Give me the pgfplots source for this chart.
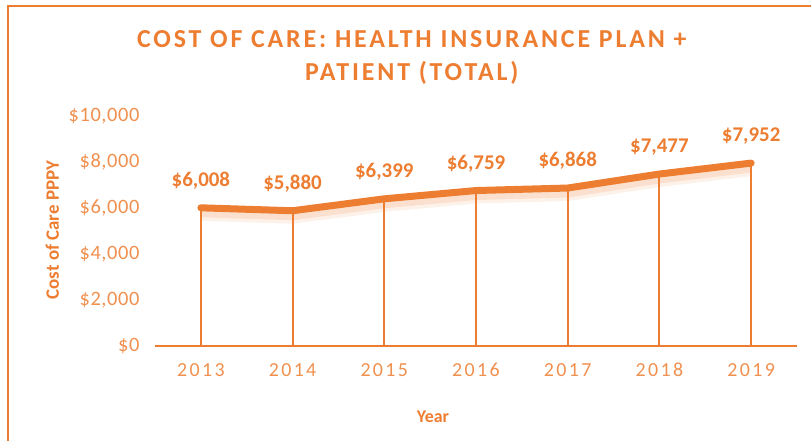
\documentclass[border=0pt]{standalone}
\usepackage{fontspec}
\setmainfont{Carlito}
\newfontfamily\titlefont[LetterSpace=11]{Carlito}
\newfontfamily\yearfont[LetterSpace=12]{Carlito}
\newfontfamily\tickfont[LetterSpace=3]{Carlito}
\usepackage{pgfplots}
\pgfplotsset{compat=1.18}
\definecolor{org}{HTML}{ED7D31}
\definecolor{orgl}{HTML}{F0904F}
\begin{document}
\begin{tikzpicture}
\useasboundingbox (0,0) rectangle (811bp,441bp);
\draw[org, line width=2.5bp] (8bp,0) -- (8bp,435bp) -- (811bp,435bp);
\begin{axis}[
  at={(155bp,95bp)}, anchor=south west,
  scale only axis, width=642bp, height=230bp,
  xmin=-0.5, xmax=6.5, ymin=0, ymax=10000,
  xtick={0,...,6},
  xticklabels={2013,2014,2015,2016,2017,2018,2019},
  ytick={0,2000,4000,6000,8000,10000},
  scaled y ticks=false,
  yticklabel={\$\pgfmathprintnumber{\tick}},
  /pgf/number format/.cd, 1000 sep={,}, fixed, precision=0, assume math mode=true,
  /pgfplots/.cd,
  axis line style={draw=none},
  major tick length=0pt,
  tick label style={color=orgl, font=\fontsize{20.5}{22}\selectfont\tickfont},
  yticklabel style={anchor=east, xshift=-12bp},
  xticklabel style={font=\fontsize{20}{22}\selectfont\yearfont, anchor=center,
    text height=1.4ex, text depth=0pt, yshift=-27bp},
  title={COST OF CARE: HEALTH INSURANCE PLAN +\\PATIENT (TOTAL)},
  title style={at={(axis description cs:0.40,1.228)}, anchor=center, align=center,
    color=org, font=\fontsize{26}{33}\selectfont\titlefont\bfseries},
  xlabel={Year},
  xlabel style={at={(axis description cs:0.433,-0.309)}, anchor=center,
    color=org, font=\fontsize{18}{20}\selectfont\bfseries},
  ylabel={Cost of Care PPPY},
  ylabel style={at={(axis description cs:-0.160,0.504)}, anchor=center, rotate=0,
    color=org, font=\fontsize{19}{20}\selectfont\bfseries},
  clip=false,
]
% baseline
\addplot[org, line width=2bp] coordinates {(-0.5,0) (6.5,0)};
% drop lines
\addplot[org, line width=2bp, ycomb, forget plot] coordinates {
 (0,6008) (1,5880) (2,6399) (3,6759) (4,6868) (5,7477) (6,7952)};
% shadow
\addplot[org, opacity=0.10, line width=14bp, yshift=-6bp] coordinates {
 (0,6008) (1,5880) (2,6399) (3,6759) (4,6868) (5,7477) (6,7952)};
\addplot[org, opacity=0.15, line width=9bp, yshift=-5bp] coordinates {
 (0,6008) (1,5880) (2,6399) (3,6759) (4,6868) (5,7477) (6,7952)};
% main line
\addplot[org, line width=7bp, line cap=round, line join=round,
  nodes near coords={\$\pgfmathprintnumber{\pgfplotspointmeta}},
  every node near coord/.append style={anchor=center, yshift=27bp, color=org,
    font=\fontsize{21}{22}\selectfont\bfseries},
] coordinates {
 (0,6008) (1,5880) (2,6399) (3,6759) (4,6868) (5,7477) (6,7952)};
\end{axis}
\end{tikzpicture}
\end{document}
